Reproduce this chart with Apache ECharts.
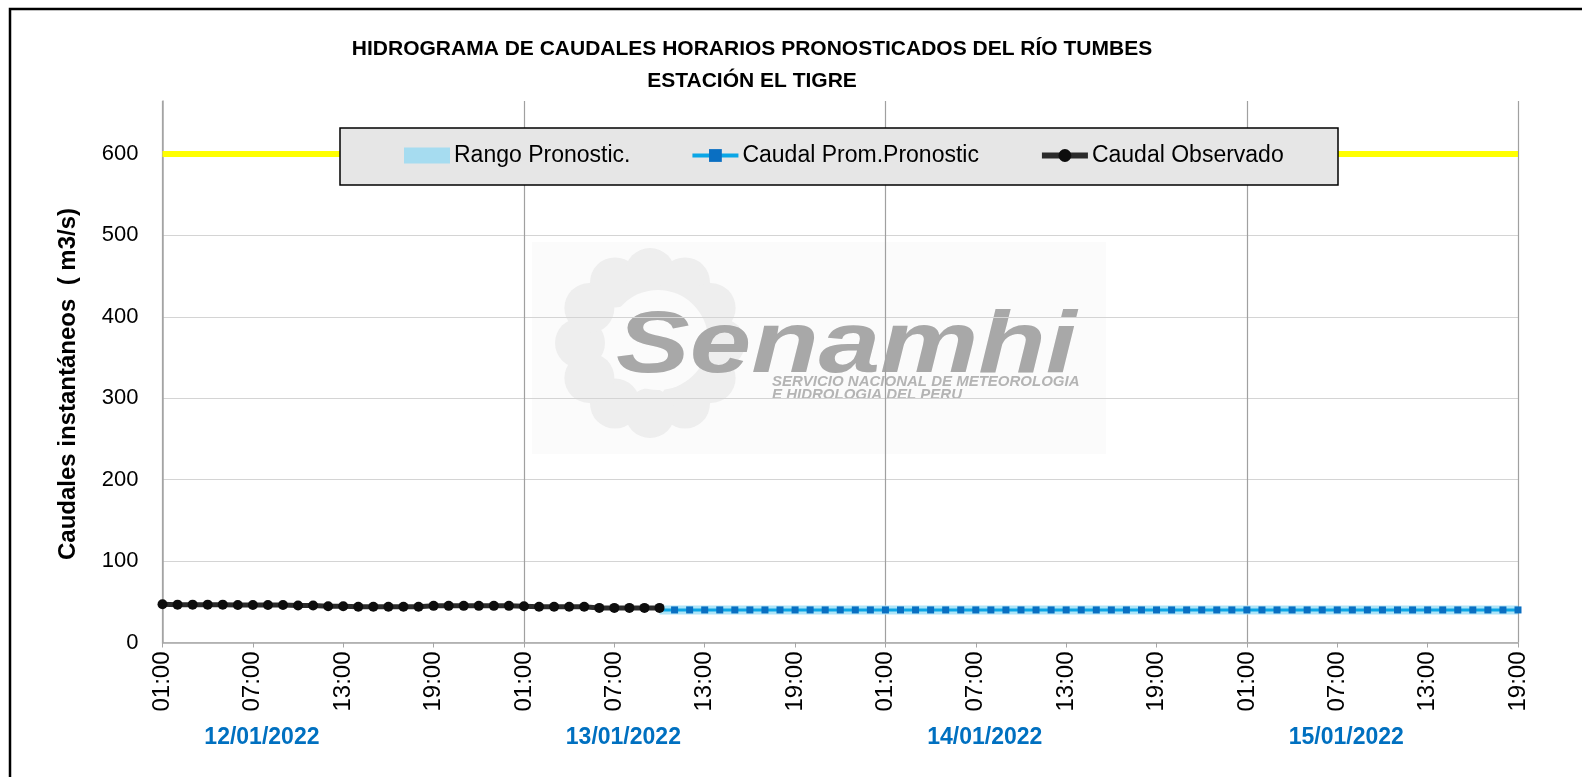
<!DOCTYPE html>
<html>
<head>
<meta charset="utf-8">
<script src="https://cdn.jsdelivr.net/npm/echarts@6/dist/echarts.min.js"></script>
<style>
html,body{margin:0;padding:0;background:#fff;}
#chart{width:1582px;height:777px;}
</style>
</head>
<body>
<div id="chart"></div>
<script>
// ---- data ----
const startHour = 1; // first category is 01:00 on 12/01/2022
const nHours = 91;   // 01:00 12/01 .. 19:00 15/01
const dateLabels = ['12/01/2022', '13/01/2022', '14/01/2022', '15/01/2022'];
const yTicks = [0, 100, 200, 300, 400, 500, 600];
const threshold = 600;
const yTitle = 'Caudales instantáneos  ( m3/s)';

// observed hourly flow (m3/s), hours 0..33
const observed = [47.0, 46.5, 46.5, 46.5, 46.5, 46.0, 46.0, 46.0, 46.0, 45.5,
  45.5, 44.5, 44.5, 44.0, 44.0, 44.0, 44.0, 44.0, 45.0, 45.0,
  45.0, 45.0, 45.0, 45.0, 44.5, 43.8, 43.8, 43.8, 43.8, 42.5,
  42.5, 42.5, 42.5, 42.5];

// forecast starts at hour index 33
const forecastStart = 33;
const forecastMean = [40, 40, 40, 40, 40, 40, 40, 40, 40, 40,
  40, 40, 40, 40, 40, 40, 40, 40, 40, 40,
  40, 40, 40, 40, 40, 40, 40, 40, 40, 40,
  40, 40, 40, 40, 40, 40, 40, 40, 40, 40,
  40, 40, 40, 40, 40, 40, 40, 40, 40, 40,
  40, 40, 40, 40, 40, 40, 40, 40];
const rangeLow = [34.5, 34.5, 34.5, 34.5, 34.5, 34.5, 34.5, 34.5, 34.5, 34.5,
  34.5, 34.5, 34.5, 34.5, 34.5, 34.5, 34.5, 34.5, 34.5, 34.5,
  34.5, 34.5, 34.5, 34.5, 34.5, 34.5, 34.5, 34.5, 34.5, 34.5,
  34.5, 34.5, 34.5, 34.5, 34.5, 34.5, 34.5, 34.5, 34.5, 34.5,
  34.5, 34.5, 34.5, 34.5, 34.5, 34.5, 34.5, 34.5, 34.5, 34.5,
  34.5, 34.5, 34.5, 34.5, 34.5, 34.5, 34.5, 34.5];
const rangeHigh = [45.5, 45.5, 45.5, 45.5, 45.5, 45.5, 45.5, 45.5, 45.5, 45.5,
  45.5, 45.5, 45.5, 45.5, 45.5, 45.5, 45.5, 45.5, 45.5, 45.5,
  45.5, 45.5, 45.5, 45.5, 45.5, 45.5, 45.5, 45.5, 45.5, 45.5,
  45.5, 45.5, 45.5, 45.5, 45.5, 45.5, 45.5, 45.5, 45.5, 45.5,
  45.5, 45.5, 45.5, 45.5, 45.5, 45.5, 45.5, 45.5, 45.5, 45.5,
  45.5, 45.5, 45.5, 45.5, 45.5, 45.5, 45.5, 45.5];

// ---- build ----
const categories = [];
for (let i = 0; i < nHours; i++) {
  const h = (startHour + i) % 24;
  categories.push((h < 10 ? '0' : '') + h + ':00');
}
function pad(arr, start) {
  const out = [];
  for (let i = 0; i < nHours; i++) {
    const j = i - start;
    out.push(j >= 0 && j < arr.length ? arr[j] : '-');
  }
  return out;
}
const obsData = pad(observed, 0);
const fcData = pad(forecastMean, forecastStart).map((v, i) =>
  i === forecastStart ? { value: v, symbol: 'none' } : v);
const lowData = pad(rangeLow, forecastStart);
const spanData = pad(rangeHigh.map((v, i) => v - rangeLow[i]), forecastStart);

const FONT = "'Liberation Sans', Arial, sans-serif";
const chart = echarts.init(document.getElementById('chart'));

// sun petals for the watermark logo (decoration only)
const sun = [];
for (let k = 0; k < 12; k++) {
  const a = k * Math.PI / 6;
  sun.push({ type: 'circle', shape: { cx: 650 + 70 * Math.cos(a), cy: 343 + 70 * Math.sin(a), r: 25 },
    style: { fill: '#eeeeee' } });
}

const option = {
  animation: false,
  backgroundColor: '#ffffff',
  textStyle: { fontFamily: FONT },
  title: {
    text: 'HIDROGRAMA DE CAUDALES HORARIOS PRONOSTICADOS DEL RÍO TUMBES\nESTACIÓN EL TIGRE',
    left: 747, top: 28, textAlign: 'center',
    textStyle: { fontFamily: FONT, fontSize: 21, fontWeight: 'bold', color: '#000', lineHeight: 32 }
  },
  grid: { left: 162.5, right: 64, top: 101, bottom: 134.5, containLabel: false },
  legend: {
    left: 404, top: 144, z: 20, padding: 0,
    itemGap: 60, itemWidth: 46, itemHeight: 16,
    textStyle: { fontFamily: FONT, fontSize: 23, color: '#000', padding: [0, 0, 0, -1] },
    data: [
      { name: 'Rango Pronostic.', icon: 'rect' },
      { name: 'Caudal Prom.Pronostic', lineStyle: { width: 4 } },
      { name: 'Caudal Observado', lineStyle: { width: 6 } }
    ]
  },
  xAxis: {
    type: 'category', data: categories, boundaryGap: false,
    axisLine: { lineStyle: { color: '#a6a6a6', width: 1.5 } },
    axisTick: { show: true, interval: 5, length: 5, lineStyle: { color: '#a6a6a6' } },
    axisLabel: { interval: 5, rotate: 90, margin: 9, fontSize: 24, color: '#000', fontFamily: FONT },
    splitLine: {
      show: true, interval: (idx) => idx % 24 === 0 || idx === nHours - 1,
      lineStyle: { color: '#a0a0a0', width: 1.2 }
    }
  },
  yAxis: {
    type: 'value', min: 0, max: 665, interval: 100,
    axisLine: { show: true, lineStyle: { color: '#a6a6a6', width: 1.5 } },
    axisTick: { show: false },
    axisLabel: {
      fontSize: 22, color: '#000', margin: 24, fontFamily: FONT, showMaxLabel: false,
      formatter: (v) => (yTicks.indexOf(v) >= 0 ? String(v) : '')
    },
    splitLine: { show: true, showMaxLine: false, lineStyle: { color: '#d4d4d4', width: 1.2 } }
  },
  series: [
    {
      name: 'rangoBase', type: 'line', stack: 'rango', data: lowData,
      symbol: 'none', lineStyle: { width: 0 }, silent: true, z: 2
    },
    {
      name: 'Rango Pronostic.', type: 'line', stack: 'rango', data: spanData,
      symbol: 'none', lineStyle: { width: 0 },
      itemStyle: { color: '#a6dcf0' },
      areaStyle: { color: '#aee4f7', opacity: 1 }, z: 2,
      markLine: {
        silent: true, symbol: 'none', z: 1,
        label: { show: false },
        lineStyle: { color: '#ffff00', width: 6, type: 'solid' },
        data: [{ yAxis: threshold }]
      }
    },
    {
      name: 'Caudal Prom.Pronostic', type: 'line', data: fcData,
      symbol: 'rect', symbolSize: 7, showAllSymbol: true,
      itemStyle: { color: '#0a6fc2' },
      lineStyle: { color: '#0aa6e6', width: 3 }, z: 3
    },
    {
      name: 'Caudal Observado', type: 'line', data: obsData,
      symbol: 'circle', symbolSize: 10, showAllSymbol: true,
      itemStyle: { color: '#0d0d0d' },
      lineStyle: { color: '#2b2b2b', width: 5 }, z: 4
    }
  ],
  graphic: [
    // outer frame
    { type: 'rect', z: 100, silent: true,
      shape: { x: 10, y: 9, width: 1620, height: 820 },
      style: { fill: 'none', stroke: '#000', lineWidth: 2.5 } },
    // legend box
    { type: 'rect', z: 10, silent: true,
      shape: { x: 340, y: 128, width: 998, height: 57 },
      style: { fill: '#e6e6e6', stroke: '#000', lineWidth: 1.5 } },
    // y axis title
    { type: 'text', z: 50, silent: true, x: 68, y: 384, rotation: Math.PI / 2,
      style: { x: 0, y: 0, text: yTitle, fill: '#000', font: 'bold 24px ' + FONT,
        textAlign: 'center', textVerticalAlign: 'middle' } },
    // watermark
    { type: 'group', z: -1, silent: true, children: [
      { type: 'rect', shape: { x: 532, y: 242, width: 574, height: 212 }, style: { fill: '#fbfbfb' } }
    ].concat(sun).concat([
      { type: 'circle', shape: { cx: 658, cy: 340, r: 50 }, style: { fill: '#fbfbfb' } },
      { type: 'text', x: 616, y: 392, scaleX: 1.27,
        style: { x: 0, y: 0, text: 'Senamhi', fill: '#a8a8a8',
          font: 'italic bold 87px ' + FONT, textVerticalAlign: 'bottom' } },
      { type: 'text', style: { x: 772, y: 382, text: 'SERVICIO NACIONAL DE METEOROLOGIA', fill: '#b4b4b4',
          font: 'italic bold 15px ' + FONT, textVerticalAlign: 'middle' } },
      { type: 'text', style: { x: 772, y: 395, text: 'E HIDROLOGIA DEL PERU', fill: '#b4b4b4',
          font: 'italic bold 15px ' + FONT, textVerticalAlign: 'middle' } }
    ]) }
  ]
};
chart.setOption(option);

// date labels under each day (placed through the axis scale)
const extra = [];
dateLabels.forEach((d, k) => {
  const a = chart.convertToPixel({ xAxisIndex: 0 }, 24 * k + 6);
  const b = chart.convertToPixel({ xAxisIndex: 0 }, 24 * k + 7);
  const x = a + 0.6 * (b - a);
  extra.push({ type: 'text', z: 50, silent: true,
    style: { x: x, y: 738, text: d, fill: '#0070c0', font: 'bold 23px ' + FONT,
      textAlign: 'center', textVerticalAlign: 'middle' } });
});
chart.setOption({ graphic: option.graphic.concat(extra) });
</script>
</body>
</html>
